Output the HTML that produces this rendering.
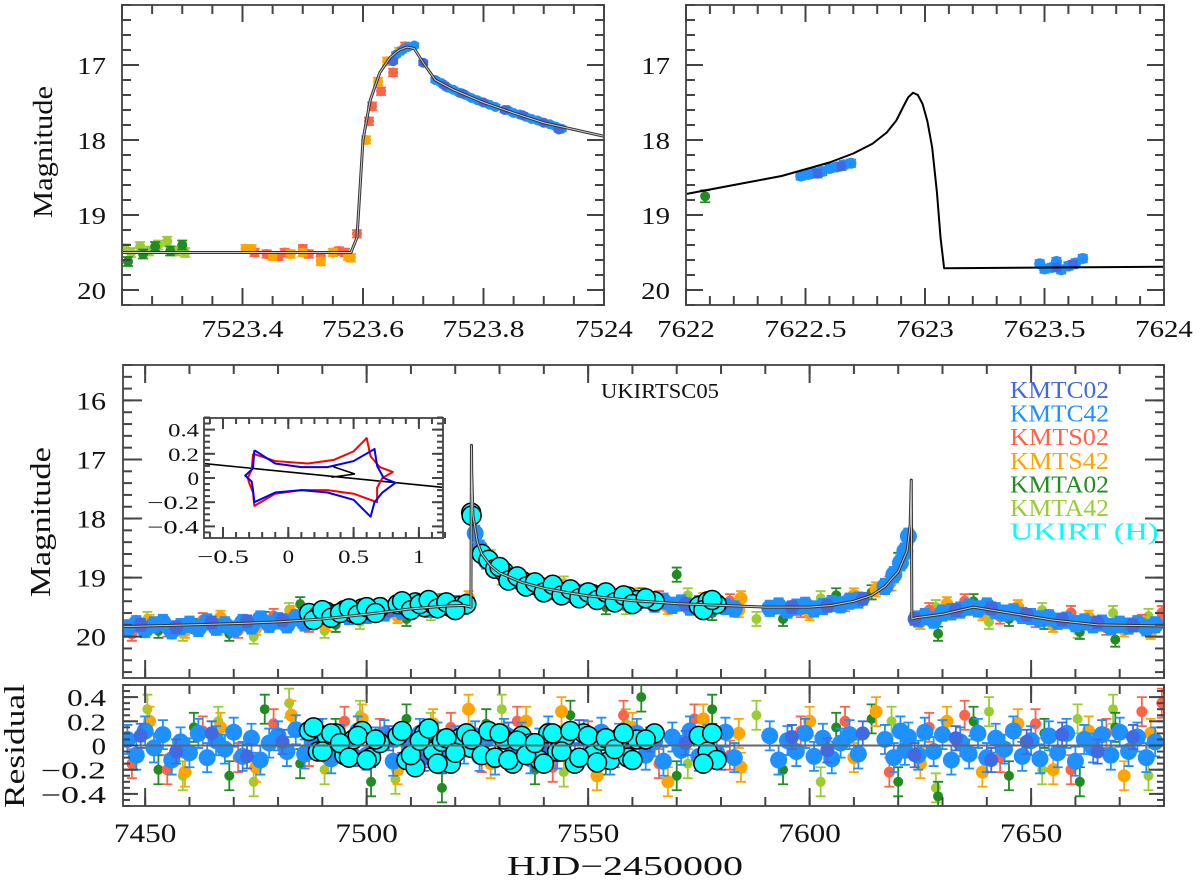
<!DOCTYPE html>
<html><head><meta charset="utf-8">
<style>
html,body{margin:0;padding:0;background:#fff;}
svg{display:block;}
text{font-family:"Liberation Serif",serif;fill:#111;}
</style></head>
<body>
<svg id="fig" width="1200" height="881" viewBox="0 0 1200 881" xmlns="http://www.w3.org/2000/svg">
<defs>
<clipPath id="cMain"><rect x="123" y="365" width="1041" height="313"/></clipPath>
<clipPath id="cRes"><rect x="123" y="685" width="1041" height="121"/></clipPath>
<clipPath id="cTL"><rect x="122" y="5" width="482" height="300"/></clipPath>
<clipPath id="cTR"><rect x="686" y="5" width="478" height="300"/></clipPath>
<clipPath id="cIn"><rect x="204" y="418" width="239" height="120"/></clipPath>
</defs>
</svg>
<script>
// ---------- main light curve data ----------
const tC42=[7446,7448,7450,7452,7454,7456,7458,7460,7462,7464,7466,7468,7470,7472,7474,7476,7478,7480,7482,7484,7486,7488,7490,7492,7494,7496,7498,7500,7502,7504,7506,7508,7510,7512,7514,7516,7518,7520,7522,7524.5,7525.5,7527,7529,7531,7533,7535,7537,7539,7541,7543,7545,7547,7549,7551,7553,7555,7557,7559,7561,7563,7565,7567,7569,7571,7573,7575,7577,7579,7581,7583,7591,7593,7595,7597,7599,7601,7603,7605,7607,7609,7611,7617,7619,7620.5,7621.5,7622.3,7624.5,7626,7628,7630,7632,7634,7636,7638,7640,7642,7644,7646,7648,7650,7652,7654,7656,7658,7660,7662,7664,7666,7668,7670,7672,7674,7676,7678];
const mC42=[19.85,19.78,19.88,19.8,19.76,19.9,19.83,19.79,19.86,19.75,19.84,19.8,19.87,19.76,19.82,19.7,19.79,19.73,19.8,19.68,19.77,19.72,19.66,19.7,19.62,19.66,19.58,19.64,19.55,19.6,19.52,19.57,19.5,19.48,19.54,19.45,19.5,19.44,19.49,18.25,18.5,18.72,18.85,18.95,19.02,19.1,19.12,19.2,19.22,19.18,19.28,19.3,19.25,19.33,19.36,19.3,19.4,19.35,19.42,19.38,19.45,19.4,19.47,19.43,19.5,19.44,19.52,19.46,19.49,19.53,19.52,19.48,19.55,19.5,19.47,19.53,19.49,19.44,19.46,19.4,19.38,19.15,18.95,18.75,18.55,18.3,19.7,19.66,19.72,19.6,19.58,19.55,19.5,19.53,19.48,19.56,19.6,19.58,19.64,19.66,19.7,19.68,19.74,19.72,19.78,19.75,19.8,19.77,19.83,19.79,19.82,19.78,19.85,19.8];
const rC42=[0.05,-0.08,0.12,-0.02,0.09,-0.12,0.03,-0.06,0.1,-0.1,0.04,-0.03,0.11,-0.09,0.06,-0.12,0.02,0.08,-0.05,0.13,-0.07,0.01,0.1,-0.11,0.05,-0.04,0.12,-0.08,0.03,0.09,-0.13,0.06,-0.02,0.1,-0.06,0.07,-0.1,0.04,-0.03,0.08,-0.09,0.05,-0.12,0.1,-0.04,0.07,-0.11,0.02,0.12,-0.07,0.04,-0.1,0.09,-0.05,0.11,-0.12,0.06,-0.02,0.1,-0.08,0.03,-0.13,0.07,-0.04,0.12,-0.09,0.05,-0.06,0.11,-0.1,0.08,-0.12,0.04,-0.05,0.1,-0.09,0.06,-0.11,0.02,0.09,-0.07,0.05,-0.1,0.12,-0.04,0.07,-0.08,0.11,-0.05,0.09,-0.12,0.03,-0.07,0.1,-0.1,0.06,-0.03,0.12,-0.09,0.04,-0.11,0.08,-0.06,0.1,-0.13,0.05,-0.02,0.09,-0.08,0.11,-0.05,0.07,-0.1,0.03];
const tC02=[7449,7457,7465,7473,7481,7489,7497,7505,7513,7521,7532,7540,7548,7556,7564,7572,7580,7596,7604,7612,7623.7,7633,7641,7649,7657,7665,7673];
const mC02=[19.8,19.84,19.76,19.74,19.72,19.68,19.62,19.55,19.5,19.47,18.98,19.18,19.3,19.37,19.41,19.45,19.47,19.5,19.48,19.36,19.7,19.55,19.52,19.63,19.71,19.76,19.81];
const rC02=[0.08,-0.05,0.1,-0.09,0.03,0.12,-0.07,0.06,-0.11,0.04,0.09,-0.06,0.11,-0.08,0.05,0.02,-0.1,0.07,-0.04,0.1,-0.08,0.06,-0.12,0.03,0.09,-0.05,0.07];
const tS02=[7447,7455,7463,7471,7479,7487,7495,7503,7511,7519,7526,7534,7542,7550,7558,7566,7574,7582,7598,7608,7618,7627,7635,7643,7651,7659,7667,7675,7679.5];
const mS02=[19.95,19.88,19.72,19.9,19.65,19.8,19.55,19.6,19.42,19.5,18.55,19.0,19.25,19.3,19.42,19.35,19.5,19.4,19.55,19.45,19.1,19.55,19.4,19.66,19.72,19.6,19.85,19.75,19.6];
const rS02=[-0.15,-0.2,0.12,-0.1,0.18,-0.05,0.2,0.1,-0.12,0.15,-0.1,0.2,-0.18,0.08,0.25,-0.15,0.22,-0.08,0.12,0.2,-0.22,0.15,0.25,-0.1,0.18,-0.2,0.1,0.28,0.35];
const tS42=[7451,7459,7467,7475,7483,7491,7499,7507,7515,7523,7528,7536,7544,7552,7560,7568,7576,7584,7584.5,7600,7610,7615,7625,7631,7639,7647,7655,7663,7671,7677];
const mS42=[19.75,19.9,19.68,19.85,19.6,19.78,19.5,19.65,19.4,19.35,18.65,19.05,19.15,19.4,19.3,19.5,19.38,19.55,19.35,19.6,19.3,19.2,19.75,19.45,19.6,19.5,19.8,19.68,19.88,19.92];
const rS42=[0.2,-0.22,0.15,-0.18,0.25,-0.1,0.22,-0.2,0.18,0.3,-0.15,0.2,0.28,-0.25,0.15,-0.3,0.22,0.1,-0.18,0.2,-0.1,0.28,-0.15,0.2,-0.22,0.18,-0.2,0.12,-0.25,0.1];
const tA02=[7453,7461,7469,7477,7485,7493,7501,7509,7517,7527,7538,7546,7554,7562,7570,7578,7594,7606,7614,7620,7629,7637,7645,7653,7661,7669];
const mA02=[19.9,19.82,19.95,19.7,19.45,19.8,19.6,19.7,19.4,18.7,19.1,19.25,19.5,19.3,18.95,19.6,19.7,19.3,19.25,18.7,19.95,19.4,19.7,19.75,19.92,20.05];
const rA02=[-0.2,0.15,-0.25,0.3,-0.15,0.1,-0.3,0.22,-0.35,0.18,-0.2,0.25,-0.12,0.4,-0.25,0.3,-0.2,0.15,0.22,-0.3,-0.42,0.2,-0.25,0.1,-0.3,0.15];
const tA42=[7450.5,7458.5,7466.5,7474.5,7482.5,7490.5,7498.5,7506.5,7514.5,7530.5,7544.5,7558.5,7572.5,7588,7602.5,7618.5,7628.5,7640.5,7652.5,7660.5,7668.5,7676.5];
const mA42=[19.7,19.95,19.85,20.0,19.55,19.9,19.75,19.5,19.6,19.0,19.1,19.5,19.3,19.7,19.35,19.1,19.5,19.75,19.55,19.9,19.6,19.65];
const rA42=[0.3,-0.25,0.2,-0.3,0.35,-0.2,0.25,-0.28,0.15,0.3,-0.22,0.18,-0.15,0.25,-0.3,0.2,-0.35,0.28,-0.2,0.22,0.3,-0.25];
const tUK=[7487,7489,7491,7493,7495,7497,7499,7501,7503,7507,7509,7511,7513,7515,7517,7519,7521,7522.5,7523.6,7523.7,7526,7527.5,7529,7531,7533,7535,7537,7539,7541,7543,7545,7547,7549,7551,7553,7555,7557,7559,7561,7565,7575,7577,7579,7488,7490,7492,7494,7496,7498,7500,7502,7508,7510,7512,7514,7516,7518,7520,7530,7532,7534,7536,7538,7540,7542,7544,7546,7548,7550,7552,7554,7556,7558,7560,7563,7576,7578];
const mUK=[19.6,19.65,19.58,19.62,19.55,19.6,19.52,19.55,19.5,19.45,19.48,19.42,19.5,19.45,19.47,19.5,19.48,19.45,17.9,17.95,18.6,18.7,18.85,18.9,19.0,19.05,19.12,19.15,19.2,19.22,19.25,19.28,19.3,19.28,19.3,19.33,19.35,19.32,19.38,19.4,19.48,19.4,19.45,19.72,19.55,19.68,19.6,19.52,19.63,19.5,19.6,19.4,19.55,19.45,19.38,19.52,19.42,19.55,18.82,19.05,18.98,19.15,19.08,19.25,19.12,19.3,19.2,19.35,19.25,19.38,19.25,19.42,19.3,19.45,19.35,19.55,19.38];
const rUK=[0.12,-0.05,0.08,0.1,-0.08,0.05,0.12,-0.1,0.02,0.08,-0.12,-0.18,0.1,-0.05,0.03,-0.15,0.06,0.1,-0.02,0.05,-0.08,0.12,-0.1,0.05,-0.15,0.08,0.02,-0.12,0.1,-0.05,0.08,-0.15,0.1,-0.08,0.04,-0.12,0.06,-0.1,0.05,0.1,0.08,-0.05,-0.12,0.15,-0.05,0.1,0.02,-0.1,0.08,-0.12,0.05,0.12,-0.08,0.04,0.14,-0.15,0.06,-0.06,0.1,-0.12,0.04,-0.08,0.02,-0.15,0.1,-0.05,0.12,-0.1,0.08,-0.14,0.06,-0.03,0.1,-0.12,0.05,-0.15,0.1];
const modelT=[7445,7460,7470,7480,7490,7500,7510,7518,7522,7523.55,7523.6,7523.67,7523.72,7524,7525,7526,7528,7530,7535,7540,7545,7550,7555,7560,7570,7580,7590,7600,7605,7610,7614,7617,7620,7622,7622.7,7622.95,7623.08,7624,7630,7637,7645,7655,7665,7680];
const modelM=[19.83,19.8,19.78,19.75,19.7,19.62,19.53,19.48,19.47,19.5,18.0,16.76,17.2,17.95,18.4,18.6,18.8,18.92,19.08,19.18,19.25,19.31,19.35,19.39,19.44,19.47,19.5,19.5,19.47,19.4,19.3,19.15,18.9,18.55,18.1,17.35,19.7,19.68,19.62,19.5,19.6,19.72,19.8,19.82];
// ---------- zoom panels ----------
const tlModelT=[7523.2,7523.58,7523.59,7523.6,7523.612,7523.628,7523.645,7523.66,7523.673,7523.685,7523.7,7523.72,7523.75,7523.8,7523.85,7523.9,7523.95,7524];
const tlModelM=[19.5,19.5,19.3,18.0,17.47,17.1,16.9,16.8,16.76,16.78,16.97,17.2,17.33,17.5,17.64,17.77,17.86,17.95];
const tlA42T=[7523.205,7523.215,7523.23,7523.245,7523.26,7523.275,7523.29,7523.305];
const tlA42M=[19.45,19.5,19.42,19.48,19.4,19.35,19.48,19.5];
const tlA02T=[7523.21,7523.235,7523.255,7523.28,7523.3];
const tlA02M=[19.62,19.52,19.42,19.48,19.4];
const tlS42T=[7523.405,7523.415,7523.45,7523.48,7523.5,7523.53,7523.55,7523.575,7523.58,7523.605,7523.625,7523.64,7523.66];
const tlS42M=[19.45,19.45,19.55,19.52,19.5,19.62,19.5,19.55,19.57,18.0,17.22,16.95,16.82];
const tlS02T=[7523.42,7523.44,7523.46,7523.47,7523.5,7523.51,7523.53,7523.56,7523.57,7523.59,7523.61,7523.615,7523.63,7523.65,7523.67];
const tlS02M=[19.5,19.52,19.55,19.5,19.45,19.52,19.55,19.48,19.5,19.25,17.75,17.55,17.35,17.1,16.75];
const tlC42T=[7523.655,7523.665,7523.675,7523.685,7523.72,7523.73,7523.74,7523.75,7523.76,7523.77,7523.78,7523.79,7523.8,7523.81,7523.82,7523.84,7523.85,7523.86,7523.87,7523.88,7523.89,7523.9,7523.91,7523.92,7523.93];
const tlC42M=[16.86,16.8,16.76,16.74,17.2,17.24,17.3,17.33,17.37,17.4,17.44,17.47,17.5,17.53,17.56,17.6,17.64,17.66,17.69,17.72,17.74,17.77,17.79,17.82,17.85];
const tlC02T=[7523.65,7523.7,7523.735,7523.765,7523.8,7523.835,7523.865,7523.9,7523.925];
const tlC02M=[16.95,16.97,17.27,17.38,17.5,17.6,17.67,17.77,17.86];
const trModelT=[7622,7622.2,7622.4,7622.6,7622.7,7622.78,7622.84,7622.88,7622.91,7622.93,7622.95,7622.97,7622.99,7623.01,7623.03,7623.05,7623.065,7623.08,7624];
const trModelM=[18.72,18.6,18.48,18.3,18.18,18.05,17.9,17.74,17.55,17.43,17.37,17.4,17.52,17.75,18.1,18.7,19.3,19.71,19.69];
const trC42T=[7622.48,7622.51,7622.54,7622.57,7622.6,7622.63,7622.66,7622.69,7623.48,7623.5,7623.53,7623.55,7623.57,7623.6,7623.63,7623.66];
const trC42M=[18.48,18.46,18.44,18.42,18.38,18.36,18.33,18.31,19.65,19.72,19.7,19.62,19.73,19.68,19.64,19.58];
const trC02T=[7622.55,7622.65,7623.55,7623.62];
const trC02M=[18.45,18.35,19.7,19.66];
const trA02T=[7622.08];
const trA02M=[18.75];
// ---------- inset caustics ----------
const redCX=[-0.27,-0.1,0.15,0.35,0.5,0.6,0.63,0.7,0.8,0.72,0.68,0.68,0.5,0.3,0.1,-0.1,-0.26,-0.27,-0.3,-0.31,-0.28,-0.27];
const redCY=[0.2,0.14,0.12,0.15,0.22,0.33,0.18,0.09,0.05,0.0,-0.08,-0.2,-0.13,-0.1,-0.1,-0.13,-0.23,-0.12,-0.04,0.0,0.07,0.2];
const blueCX=[-0.26,-0.1,0.1,0.3,0.5,0.66,0.68,0.73,0.82,0.72,0.66,0.63,0.5,0.3,0.1,-0.1,-0.26,-0.27,-0.28,-0.33,-0.27,-0.26];
const blueCY=[0.23,0.12,0.09,0.09,0.14,0.24,0.1,0.0,-0.04,-0.12,-0.2,-0.32,-0.18,-0.12,-0.1,-0.12,-0.2,-0.1,-0.03,0.02,0.08,0.23];
const trajX=[-0.65,1.18];
const trajY=[0.12,-0.077];
const arrowX=[0.345,0.51,0.33];
const arrowY=[0.093,0.033,0.006];

const NS='http://www.w3.org/2000/svg';
const svg=document.getElementById('fig');
function mk(tag,parent){const e=document.createElementNS(NS,tag);(parent||svg).appendChild(e);return e;}
function set(e,a){for(const k in a)e.setAttribute(k,a[k]);return e;}

const Xm=t=>123+(t-7445)*1041/235;
const Ym=m=>365+(m-15.4)*313/5.3;
const Yr=r=>745.5-r*121;
const Xtl=t=>122+(t-7523.2)*482/0.8;
const Xtr=t=>686+(t-7622)*478/2;
const Yt=m=>5+(m-16.2)*75;
const Xi=x=>288.3+x*130.6;
const Yi=y=>478-y*121;

function labW(s,px){let w=0;for(const c of s){w+= c==='.'?px*0.42:(c==='\u2212'?px*1.1:px*0.6);}return w;}
function label(txt,x,y,anchor,size,name){
  const e=mk('text');
  
  
  set(e,{x:x,y:y,'text-anchor':anchor,'font-size':size,textLength:labW(txt,size).toFixed(1),lengthAdjust:'spacingAndGlyphs'});
  e.textContent=txt;return e;
}
function frame(x0,y0,x1,y1,name){
  const r=mk('rect');
  
  
  set(r,{x:x0,y:y0,width:x1-x0,height:y1-y0,fill:'none',stroke:'#555','stroke-width':2});
}
function ticksX(vals,X,y0,y1,len,name){
  const g=mk('g');
  
  
  for(const v of vals){const x=X(v);
    set(mk('line',g),{x1:x,x2:x,y1:y1,y2:y1-len,stroke:'#444','stroke-width':2});
    set(mk('line',g),{x1:x,x2:x,y1:y0,y2:y0+len,stroke:'#444','stroke-width':2});}
}
function ticksY(vals,Y,x0,x1,len,name){
  const g=mk('g');
  
  
  for(const v of vals){const y=Y(v);
    set(mk('line',g),{x1:x0,x2:x0+len,y1:y,y2:y,stroke:'#444','stroke-width':2});
    set(mk('line',g),{x1:x1,x2:x1-len,y1:y,y2:y,stroke:'#444','stroke-width':2});}
}
function range(a,b,s){const o=[];for(let v=a;v<=b+1e-9;v+=s)o.push(+v.toFixed(4));return o;}
function series(T,V,X,Y,col,err,r,clip,name,edge){
  const g=mk('g');
  
  
  g.setAttribute('clip-path','url(#'+clip+')');
  for(let i=0;i<T.length;i++){const x=X(T[i]),y=Y(V[i]),ya=Y(V[i]-err),yb=Y(V[i]+err);
    set(mk('path',g),{d:`M${x},${ya}V${yb}M${x-5},${ya}h10M${x-5},${yb}h10`,stroke:col,'stroke-width':1.8,fill:'none'});}
  for(let i=0;i<T.length;i++){
    const c=mk('circle',g);
    
    
    set(c,{cx:X(T[i]),cy:Y(V[i]),r:r,fill:col});
    if(edge)set(c,{stroke:'#000','stroke-width':1.5});
  }
}
function modelLine(T,M,X,Y,clip,name,core){
  const d=T.map((t,i)=>(i?'L':'M')+X(t).toFixed(2)+','+Y(M[i]).toFixed(2)).join('');
  const p=mk('path');
  
  
  set(p,{d:d,fill:'none',stroke:core?'#333':'#000','stroke-width':core?3:2,'stroke-linejoin':'round','clip-path':'url(#'+clip+')'});
  if(core){const q=mk('path');
    
    
    set(q,{d:d,fill:'none',stroke:'#ccc','stroke-width':1,'clip-path':'url(#'+clip+')'});}
}
const COL={C02:'#4169e1',C42:'#1e90ff',S02:'#ff6347',S42:'#ffa500',A02:'#228b22',A42:'#9acd32',UK:'#00ffff'};

// ===== top-left panel =====
series(tlA42T,tlA42M,Xtl,Yt,COL.A42,0.06,5,'cTL','top-left-kmta42');
series(tlA02T,tlA02M,Xtl,Yt,COL.A02,0.06,5,'cTL','top-left-kmta02');
series(tlS02T,tlS02M,Xtl,Yt,COL.S02,0.05,5,'cTL','top-left-kmts02');
series(tlS42T,tlS42M,Xtl,Yt,COL.S42,0.05,5,'cTL','top-left-kmts42');
series(tlC42T,tlC42M,Xtl,Yt,COL.C42,0.03,5,'cTL','top-left-kmtc42');
series(tlC02T,tlC02M,Xtl,Yt,COL.C02,0.03,5,'cTL','top-left-kmtc02');
modelLine(tlModelT,tlModelM,Xtl,Yt,'cTL','top-left-model',true);
frame(122,5,604,305,'top-left-frame');
ticksX(range(7523.2,7524,0.05),Xtl,5,305,9,'top-left-minor-x-ticks');
ticksX(range(7523.2,7524,0.2),Xtl,5,305,17,'top-left-major-x-ticks');
ticksY(range(16.2,20.2,0.2),Yt,122,604,9,'top-left-minor-y-ticks');
ticksY([17,18,19,20],Yt,122,604,17,'top-left-major-y-ticks');
['7523.4','7523.6','7523.8','7524'].forEach(s=>label(s,Xtl(+s),337,'middle',24,'top-left-x-tick-label'));
['17','18','19','20'].forEach(s=>label(s,106,Yt(+s)+9,'end',24,'top-left-y-tick-label'));
{const t=label('Magnitude',0,0,'middle',27,'top-left-y-axis-title');t.setAttribute('transform','translate(52,152) rotate(-90)');t.setAttribute('textLength','132');}

// ===== top-right panel =====
series(trA02T,trA02M,Xtr,Yt,COL.A02,0.08,5,'cTR','top-right-kmta02');
series(trC42T,trC42M,Xtr,Yt,COL.C42,0.05,5.5,'cTR','top-right-kmtc42');
series(trC02T,trC02M,Xtr,Yt,COL.C02,0.05,5,'cTR','top-right-kmtc02');
modelLine(trModelT,trModelM,Xtr,Yt,'cTR','top-right-model',false);
frame(686,5,1164,305,'top-right-frame');
ticksX(range(7622,7624,0.1),Xtr,5,305,9,'top-right-minor-x-ticks');
ticksX(range(7622,7624,0.5),Xtr,5,305,17,'top-right-major-x-ticks');
ticksY(range(16.2,20.2,0.2),Yt,686,1164,9,'top-right-minor-y-ticks');
ticksY([17,18,19,20],Yt,686,1164,17,'top-right-major-y-ticks');
['7622','7622.5','7623','7623.5','7624'].forEach(s=>label(s,Xtr(+s),337,'middle',24,'top-right-x-tick-label'));
['17','18','19','20'].forEach(s=>label(s,670,Yt(+s)+9,'end',24,'top-right-y-tick-label'));

// ===== main panel =====
series(tA42,mA42,Xm,Ym,COL.A42,0.12,5,'cMain','main-kmta42');
series(tA02,mA02,Xm,Ym,COL.A02,0.12,5,'cMain','main-kmta02');
series(tS02,mS02,Xm,Ym,COL.S02,0.12,5.5,'cMain','main-kmts02');
series(tS42,mS42,Xm,Ym,COL.S42,0.12,6.5,'cMain','main-kmts42');
series(tC42,mC42,Xm,Ym,COL.C42,0.13,8.5,'cMain','main-kmtc42');
series(tC02,mC02,Xm,Ym,COL.C02,0.1,7,'cMain','main-kmtc02');
series(tUK,mUK,Xm,Ym,COL.UK,0.05,9.5,'cMain','main-ukirt',true);
modelLine(modelT,modelM,Xm,Ym,'cMain','main-model-curve',true);
frame(123,365,1164,678,'main-frame');
ticksX(range(7450,7680,10),Xm,365,678,9,'main-minor-x-ticks');
ticksX(range(7450,7650,50),Xm,365,678,18,'main-major-x-ticks');
ticksY(range(15.4,20.6,0.2),Ym,123,1164,9,'main-minor-y-ticks');
ticksY([16,17,18,19,20],Ym,123,1164,19,'main-major-y-ticks');
['16','17','18','19','20'].forEach(s=>label(s,106,Ym(+s)+9,'end',25,'main-y-tick-label'));
{const t=label('Magnitude',0,0,'middle',28,'main-y-axis-title');t.setAttribute('transform','translate(50,522) rotate(-90)');t.setAttribute('textLength','150');}
{const t=label('UKIRTSC05',660,398,'middle',21,'main-field-label');t.setAttribute('textLength','118');}
const legNames=['KMTC02','KMTC42','KMTS02','KMTS42','KMTA02','KMTA42','UKIRT (H)'];
const legCols=[COL.C02,COL.C42,COL.S02,COL.S42,COL.A02,COL.A42,COL.UK];
legNames.forEach((s,i)=>{const t=label(s,1010,398+i*23.6,'start',24,'legend-entry-'+s.toLowerCase().replace(/[^a-z0-9]/g,''));
  t.setAttribute('fill',legCols[i]);t.style.fill=legCols[i];t.setAttribute('textLength',String(s.length*16.5));});

// ===== inset =====
{const r=mk('rect');


set(r,{x:204,y:418,width:239,height:120,fill:'#fff'});}
function polyD(X,Y){return X.map((x,i)=>(i?'L':'M')+Xi(x).toFixed(2)+','+Yi(Y[i]).toFixed(2)).join('');}
{const p=mk('path');


set(p,{d:polyD(trajX,trajY),stroke:'#000','stroke-width':1.6,fill:'none','clip-path':'url(#cIn)'});}
{const p=mk('path');


set(p,{d:polyD(redCX,redCY),stroke:'#ff0000','stroke-width':2,fill:'none','stroke-linejoin':'round'});}
{const p=mk('path');


set(p,{d:polyD(blueCX,blueCY),stroke:'#0000ff','stroke-width':2,fill:'none','stroke-linejoin':'round'});}
{const p=mk('path');


set(p,{d:polyD(arrowX,arrowY),stroke:'#000','stroke-width':1.6,fill:'none'});}
frame(204,418,443,538,'inset-frame');
ticksX(range(-0.6,1.2,0.1),Xi,418,538,6,'inset-minor-x-ticks');
ticksX([-0.5,0,0.5,1],Xi,418,538,11,'inset-major-x-ticks');
ticksY(range(-0.45,0.5,0.05),Yi,204,443,6,'inset-minor-y-ticks');
ticksY([-0.4,-0.2,0,0.2,0.4],Yi,204,443,11,'inset-major-y-ticks');
['\u22120.5','0','0.5','1'].forEach((s,i)=>label(s,Xi([-0.5,0,0.5,1][i]),563,'middle',19,'inset-x-tick-label'));
['0.4','0.2','0','\u22120.2','\u22120.4'].forEach((s,i)=>label(s,199,Yi([0.4,0.2,0,-0.2,-0.4][i])+7,'end',19,'inset-y-tick-label'));

// ===== residual panel =====
series(tA42,rA42,Xm,Yr,COL.A42,0.12,5,'cRes','residual-kmta42');
series(tA02,rA02,Xm,Yr,COL.A02,0.12,5,'cRes','residual-kmta02');
series(tS02,rS02,Xm,Yr,COL.S02,0.12,5.5,'cRes','residual-kmts02');
series(tS42,rS42,Xm,Yr,COL.S42,0.12,6.5,'cRes','residual-kmts42');
series(tC42,rC42,Xm,Yr,COL.C42,0.12,8.5,'cRes','residual-kmtc42');
series(tC02,rC02,Xm,Yr,COL.C02,0.1,7,'cRes','residual-kmtc02');
series(tUK,rUK,Xm,Yr,COL.UK,0.05,9.5,'cRes','residual-ukirt',true);
{const l=mk('line');


set(l,{x1:123,x2:1164,y1:Yr(0),y2:Yr(0),stroke:'#666','stroke-width':2});}
frame(123,685,1164,806,'residual-frame');
ticksX(range(7450,7680,10),Xm,685,806,9,'residual-minor-x-ticks');
ticksX(range(7450,7650,50),Xm,685,806,18,'residual-major-x-ticks');
ticksY(range(-0.5,0.5,0.05),Yr,123,1164,7,'residual-minor-y-ticks');
ticksY([-0.4,-0.2,0,0.2,0.4],Yr,123,1164,15,'residual-major-y-ticks');
['0.4','0.2','0','\u22120.2','\u22120.4'].forEach((s,i)=>label(s,106,Yr([0.4,0.2,0,-0.2,-0.4][i])+9,'end',24,'residual-y-tick-label'));
{const t=label('Residual',0,0,'middle',28,'residual-y-axis-title');t.setAttribute('transform','translate(24,746) rotate(-90)');t.setAttribute('textLength','124');}
['7450','7500','7550','7600','7650'].forEach(s=>label(s,Xm(+s),842,'middle',26,'x-tick-label'));
{const t=label('HJD\u22122450000',625,875,'middle',27,'x-axis-title');t.setAttribute('textLength','236');}
</script>
</body></html>
